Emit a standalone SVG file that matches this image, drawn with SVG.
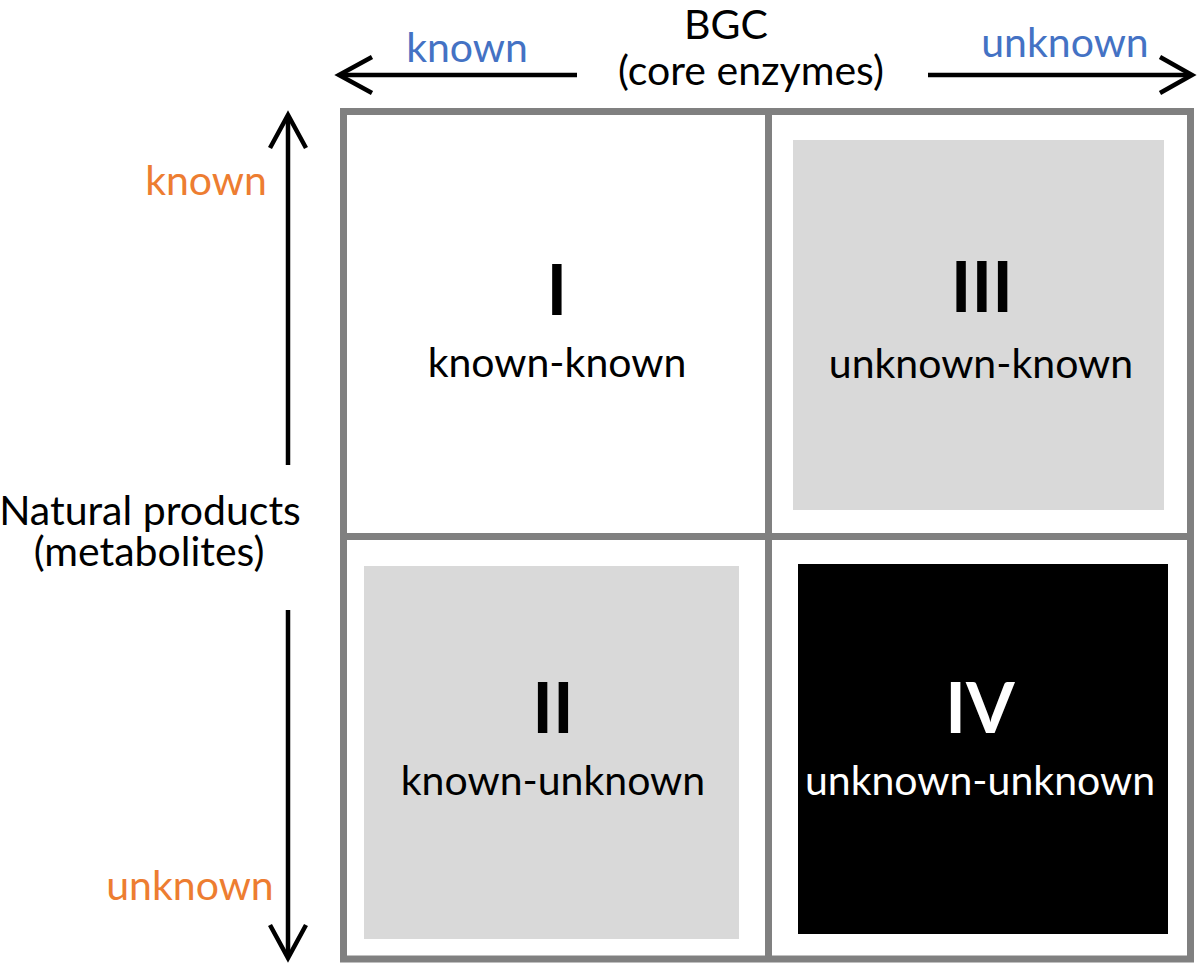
<svg xmlns="http://www.w3.org/2000/svg" width="1200" height="967" viewBox="0 0 1200 967">
<defs>
<style>
text{font-family:Lato,"Open Sans","Liberation Sans",sans-serif;font-size:41px;text-anchor:middle;fill:#000}
.num{font-weight:700;font-size:70px}
.blue{fill:#4472C4}
.orange{fill:#ED7D31}
.white{fill:#fff}
.arr{stroke:#000;stroke-width:4.5;fill:none;stroke-linecap:butt;stroke-linejoin:miter}
.grid{stroke:#808080;stroke-width:7;fill:none}
.gray{fill:#d9d9d9}
</style>
</defs>
<rect width="1200" height="967" fill="#fff"/>
<g id="axis-top">
<text x="726" y="39">BGC</text>
<text x="751" y="85">(core enzymes)</text>
<text class="blue" x="467" y="62">known</text>
<text class="blue" x="1065" y="57">unknown</text>
</g>
<g id="axis-left">
<text class="orange" x="206" y="195">known</text>
<text class="orange" x="190" y="900">unknown</text>
<text x="150" y="525">Natural products</text>
<text x="149" y="566">(metabolites)</text>
</g>
<g id="connectors">
<line class="arr" x1="577" y1="75" x2="340" y2="75"/>
<polyline class="arr" points="372,57 339,75 372,93"/>
<line class="arr" x1="928" y1="75" x2="1190" y2="75"/>
<polyline class="arr" points="1160,57 1192,75 1160,93"/>
<line class="arr" x1="288" y1="465" x2="288" y2="116"/>
<polyline class="arr" points="270,148 288,115 306,148"/>
<line class="arr" x1="288" y1="610" x2="288" y2="956"/>
<polyline class="arr" points="270,925 288,958 306,925"/>
</g>
<g id="grid">
<rect class="grid" x="343.5" y="111.5" width="847" height="847.5"/>
<line class="grid" x1="768.5" y1="111.5" x2="768.5" y2="959"/>
<line class="grid" x1="343.5" y1="536.5" x2="1190.5" y2="536.5"/>
</g>
<g id="quadrant-I">
<text class="num" x="557" y="315">I</text>
<text x="557" y="377">known-known</text>
</g>
<g id="quadrant-III">
<rect class="gray" x="793" y="140" width="371" height="370"/>
<text class="num" x="982" y="312">III</text>
<text x="981" y="378">unknown-known</text>
</g>
<g id="quadrant-II">
<rect class="gray" x="364" y="566" width="375" height="373"/>
<text class="num" x="553" y="733">II</text>
<text x="553" y="795">known-unknown</text>
</g>
<g id="quadrant-IV">
<rect x="798" y="564" width="370" height="370" fill="#000"/>
<text class="num white" x="980" y="733">IV</text>
<text class="white" x="980" y="795">unknown-unknown</text>
</g>
</svg>
